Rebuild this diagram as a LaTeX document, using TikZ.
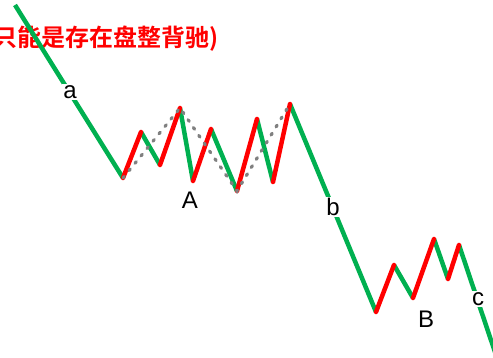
\documentclass[tikz,border=0pt]{standalone}
\usepackage{fontspec}
\setmainfont{Liberation Sans}
\newfontfamily\cjkfont{Noto Sans CJK SC}[BoldFont={* Bold}]
\definecolor{upred}{RGB}{255,0,0}
\definecolor{dngreen}{RGB}{0,176,80}
\definecolor{dashgray}{RGB}{128,128,128}
\begin{document}
\begin{tikzpicture}[x=1pt,y=-1pt,
  upseg/.style={draw=upred,line width=4.5pt,line cap=round},
  dnseg/.style={draw=dngreen,line width=4.5pt,line cap=butt},
  center/.style={draw=dashgray,line width=3.2pt,dash pattern=on 2pt off 7.5pt,line cap=round},
  lbl/.style={fill=white,inner sep=1pt,font=\fontsize{24}{24}\selectfont,text=black},
  note/.style={font=\fontsize{24}{24}\selectfont\cjkfont\bfseries,text=upred,anchor=east,inner sep=0pt}]
\useasboundingbox (0,0) rectangle (493,358);
\clip (0,0) rectangle (493,358);
\node[note] (t) at (219,39) {只能是存在盘整背驰)};
% points
\coordinate (p0) at (15,5);
\coordinate (p1) at (123,178);
\coordinate (p2) at (141,132);
\coordinate (p3) at (160,165);
\coordinate (p4) at (180,108);
\coordinate (p5) at (193,181);
\coordinate (p6) at (211,129);
\coordinate (p7) at (237,191);
\coordinate (p8) at (257,119);
\coordinate (p9) at (273,182);
\coordinate (p10) at (290,104);
\coordinate (p11) at (376,312);
\coordinate (p12) at (394,265);
\coordinate (p13) at (413,298);
\coordinate (p14) at (434,239);
\coordinate (p15) at (448,279);
\coordinate (p16) at (459,245);
\coordinate (p17) at (497,358);
% segments
\draw[dnseg] (p0) -- (p1);
\draw[dnseg] (p2) -- (p3);
\draw[dnseg] (p4) -- (p5);
\draw[dnseg] (p6) -- (p7);
\draw[dnseg] (p8) -- (p9);
\draw[dnseg] (p10) -- (p11);
\draw[dnseg] (p12) -- (p13);
\draw[dnseg] (p14) -- (p15);
\draw[dnseg] (p16) -- (p17);
\draw[upseg] (p1) -- (p2);
\draw[upseg] (p3) -- (p4);
\draw[upseg] (p5) -- (p6);
\draw[upseg] (p7) -- (p8);
\draw[upseg] (p9) -- (p10);
\draw[upseg] (p11) -- (p12);
\draw[upseg] (p13) -- (p14);
\draw[upseg] (p15) -- (p16);
% dashed centre path
\draw[center] (p1) -- (p4) -- (p7) -- (p10);
% labels
\node[lbl] (la) at (70,92) {a};
\node[lbl] (lA) at (190,200) {A};
\node[lbl] (lb) at (333,207) {b};
\node[lbl] (lB) at (426,319) {B};
\node[lbl] (lc) at (478,299) {c};
\end{tikzpicture}
\end{document}
